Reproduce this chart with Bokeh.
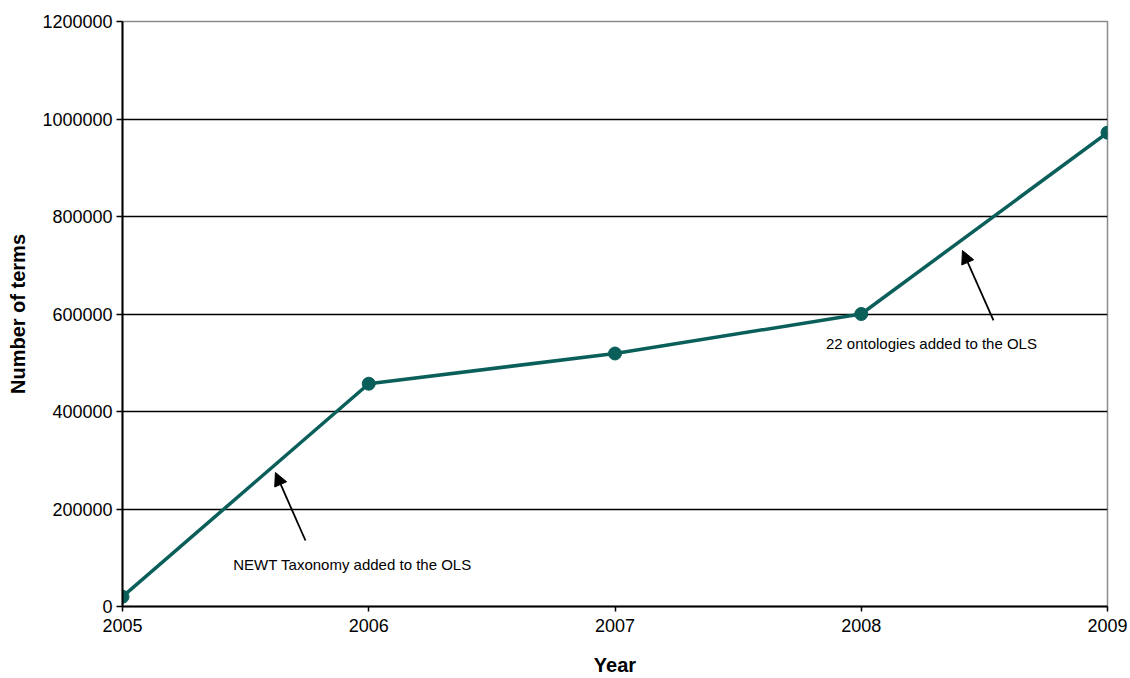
from bokeh.plotting import figure
from bokeh.models import Range1d, FixedTicker, NumeralTickFormatter, Arrow, NormalHead, Label
from bokeh.embed import file_html
from bokeh.resources import INLINE

years = [2005, 2006, 2007, 2008, 2009]
terms = [20000, 457000, 519000, 600000, 972000]
y_ticks = [0, 200000, 400000, 600000, 800000, 1000000, 1200000]
x_ticks = [2005, 2006, 2007, 2008, 2009]
note1 = "NEWT Taxonomy added to the OLS"
note2 = "22 ontologies added to the OLS"

FONT = "Liberation Sans"
TEAL = "#0a5f5b"

p = figure(width=1130, height=678, output_backend="svg", toolbar_location=None,
           x_range=Range1d(2005, 2009), y_range=Range1d(0, 1200000),
           min_border_left=122, min_border_right=23, min_border_top=21, min_border_bottom=72)
p.background_fill_color = "white"
p.border_fill_color = "white"
p.outline_line_color = "#8c8c8c"
p.outline_line_width = 1.5

p.xgrid.visible = False
p.ygrid.ticker = FixedTicker(ticks=y_ticks[1:-1])
p.ygrid.grid_line_color = "black"
p.ygrid.grid_line_width = 1.5

for ax in (p.xaxis[0], p.yaxis[0]):
    ax.axis_line_color = "black"
    ax.axis_line_width = 2
    ax.major_tick_line_color = "black"
    ax.major_tick_line_width = 1.5
    ax.major_tick_out = 6
    ax.major_tick_in = 0
    ax.minor_tick_line_color = None
    ax.major_label_text_font = FONT
    ax.major_label_text_font_size = "18px"
    ax.major_label_text_color = "black"
    ax.axis_label_text_font = FONT
    ax.axis_label_text_font_size = "20px"
    ax.axis_label_text_font_style = "bold"
    ax.axis_label_text_color = "black"

p.xaxis.ticker = FixedTicker(ticks=x_ticks)
p.yaxis.ticker = FixedTicker(ticks=y_ticks)
p.yaxis.formatter = NumeralTickFormatter(format="0")
p.xaxis.formatter = NumeralTickFormatter(format="0")
p.xaxis.axis_label = "Year"
p.yaxis.axis_label = "Number of terms"
p.xaxis.major_tick_out = 5
p.xaxis.major_label_standoff = 7
p.yaxis.major_label_standoff = 4
p.xaxis.axis_label_standoff = 19
p.yaxis.axis_label_standoff = 10

p.line(years, terms, line_color=TEAL, line_width=3.5)
p.scatter(years, terms, size=13, fill_color=TEAL, line_color=TEAL)

p.add_layout(Arrow(end=NormalHead(size=13, fill_color="black", line_color="black"),
                   x_start=2005.743, y_start=135400, x_end=2005.621, y_end=274900,
                   line_color="black", line_width=1.8))
p.add_layout(Arrow(end=NormalHead(size=13, fill_color="black", line_color="black"),
                   x_start=2008.537, y_start=586700, x_end=2008.411, y_end=730300,
                   line_color="black", line_width=1.8))

p.add_layout(Label(x=2005.934, y=86150, text=note1, text_font=FONT, text_font_size="15px",
                   text_align="center", text_baseline="middle", text_color="black"))
p.add_layout(Label(x=2008.285, y=539500, text=note2, text_font=FONT, text_font_size="15px",
                   text_align="center", text_baseline="middle", text_color="black"))

open("out.html", "w").write(file_html(p, INLINE))
